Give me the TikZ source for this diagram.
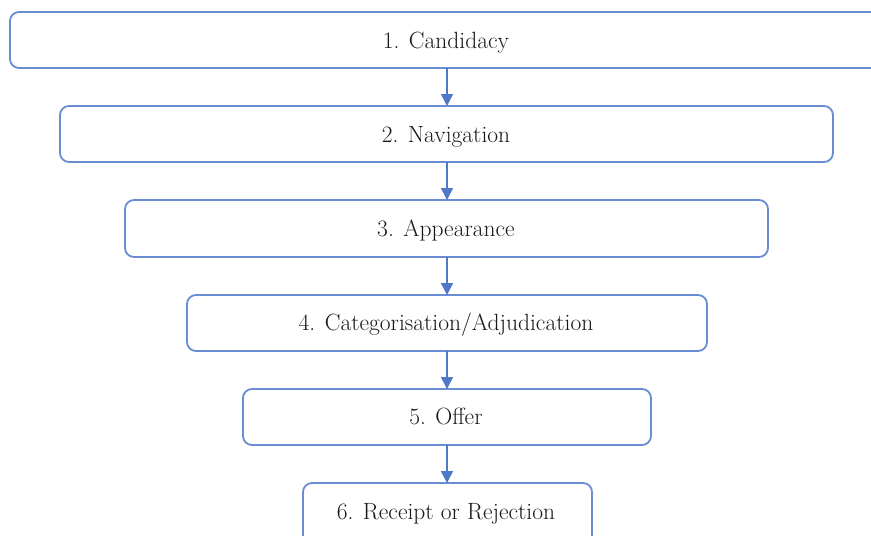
\documentclass[tikz,border=0pt]{standalone}
\usepackage{fontspec}
\usetikzlibrary{arrows.meta}
\definecolor{boxblue}{RGB}{105,140,210}
\definecolor{arrblue}{RGB}{80,120,200}
\begin{document}
\begin{tikzpicture}[x=1pt,y=-1pt,
  stagebox/.style={draw=boxblue,line width=1.8pt,rounded corners=9pt,fill=white},
  lbl/.style={font=\fontsize{23.5}{28}\selectfont,text=black!90,anchor=base,inner sep=0pt},
  flow/.style={draw=arrblue,line width=1.6pt,-{Triangle[length=12pt,width=12pt]}}]
\useasboundingbox (0,0) rectangle (871,536);
\clip (0,0) rectangle (871,536);
\draw[stagebox] (10,12) rectangle (895,68);
\draw[stagebox] (60,106) rectangle (833,162);
\draw[stagebox] (125,200) rectangle (768,257);
\draw[stagebox] (187,295) rectangle (707,351);
\draw[stagebox] (243,389) rectangle (651,445);
\draw[stagebox] (303,483) rectangle (592,560);
\node[lbl] (n1) at (446,48) {1. Candidacy};
\node[lbl] (n2) at (446,142) {2. Navigation};
\node[lbl] (n3) at (446,236) {3. Appearance};
\node[lbl] (n4) at (446,330) {4. Categorisation/Adjudication};
\node[lbl] (n5) at (446,424) {5. Offer};
\node[lbl] (n6) at (446,519) {6. Receipt or Rejection};
\coordinate (b1) at (447,68);  \coordinate (t2) at (447,106);
\coordinate (b2) at (447,162); \coordinate (t3) at (447,200);
\coordinate (b3) at (447,257); \coordinate (t4) at (447,295);
\coordinate (b4) at (447,351); \coordinate (t5) at (447,389);
\coordinate (b5) at (447,445); \coordinate (t6) at (447,483);
\draw[flow] (b1) -- (t2);
\draw[flow] (b2) -- (t3);
\draw[flow] (b3) -- (t4);
\draw[flow] (b4) -- (t5);
\draw[flow] (b5) -- (t6);
\end{tikzpicture}
\end{document}
